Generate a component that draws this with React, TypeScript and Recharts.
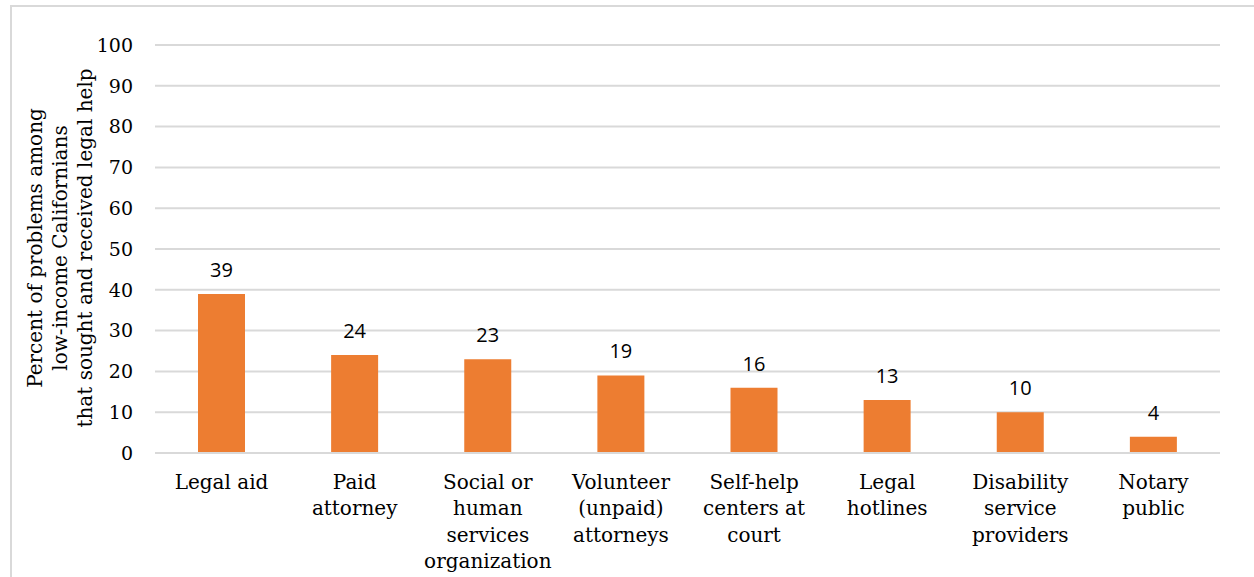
import { BarChart, Bar, XAxis, YAxis, CartesianGrid, LabelList } from 'recharts';

const categories = [
  ['Legal aid'],
  ['Paid', 'attorney'],
  ['Social or', 'human', 'services', 'organization'],
  ['Volunteer', '(unpaid)', 'attorneys'],
  ['Self-help', 'centers at', 'court'],
  ['Legal', 'hotlines'],
  ['Disability', 'service', 'providers'],
  ['Notary', 'public'],
];
const percents = [39, 24, 23, 19, 16, 13, 10, 4];
const yTicks = [0, 10, 20, 30, 40, 50, 60, 70, 80, 90, 100];
const yTitle = [
  'Percent of problems among',
  'low-income Californians',
  'that sought and received legal help',
];

const chartData = categories.map((lines, i) => ({
  name: lines.join(' '),
  lines,
  value: percents[i],
}));

const slab = '"DejaVu Serif", serif';

const CategoryTick = (props: any) => {
  const { x, y, payload } = props;
  const lines = categories[payload.index] ?? [payload.value];
  return (
    <text x={x} y={y} textAnchor="middle" fill="#000" fontFamily={slab} fontSize={20}>
      {lines.map((l, i) => (
        <tspan key={i} x={x} dy={i === 0 ? 28 : 26.3}>
          {l}
        </tspan>
      ))}
    </text>
  );
};

const YTitle = () => (
  <text
    transform="translate(60, 248) rotate(-90)"
    textAnchor="middle"
    fill="#000"
    fontFamily={slab}
    fontSize={20}
  >
    {yTitle.map((l, i) => (
      <tspan key={i} x={0} y={(i - 1) * 25 + 7}>
        {l}
      </tspan>
    ))}
  </text>
);

const App = () => (
  <div style={{ position: 'absolute', left: 0, top: 0, width: 1254, height: 577, background: '#fff', overflow: 'hidden' }}>
    <div
      style={{
        position: 'absolute',
        left: 10,
        top: 5,
        width: 1260,
        height: 600,
        border: '2px solid #D9D9D9',
        boxSizing: 'border-box',
      }}
    />
    <BarChart
      width={1254}
      height={577}
      data={chartData}
      margin={{ top: 45, right: 34, left: 0, bottom: 0 }}
      style={{ position: 'absolute', left: 0, top: 0 }}
    >
      <CartesianGrid vertical={false} stroke="#D9D9D9" strokeWidth={2} />
      <XAxis
        dataKey="name"
        height={124}
        axisLine={{ stroke: '#D9D9D9', strokeWidth: 2 }}
        tickLine={false}
        tick={<CategoryTick />}
        interval={0}
      />
      <YAxis
        width={155}
        domain={[0, 100]}
        ticks={yTicks}
        axisLine={false}
        tickLine={false}
        tickSize={0}
        tickMargin={22}
        tick={{ fill: '#000', fontFamily: slab, fontSize: 19 }}
        label={<YTitle />}
      />
      <Bar dataKey="value" fill="#ED7D31" barSize={47} isAnimationActive={false}>
        <LabelList
          dataKey="value"
          position="top"
          offset={17}
          fill="#000"
          fontFamily='"Open Sans", sans-serif'
          fontSize={20}
        />
      </Bar>
    </BarChart>
  </div>
);

export default App;
